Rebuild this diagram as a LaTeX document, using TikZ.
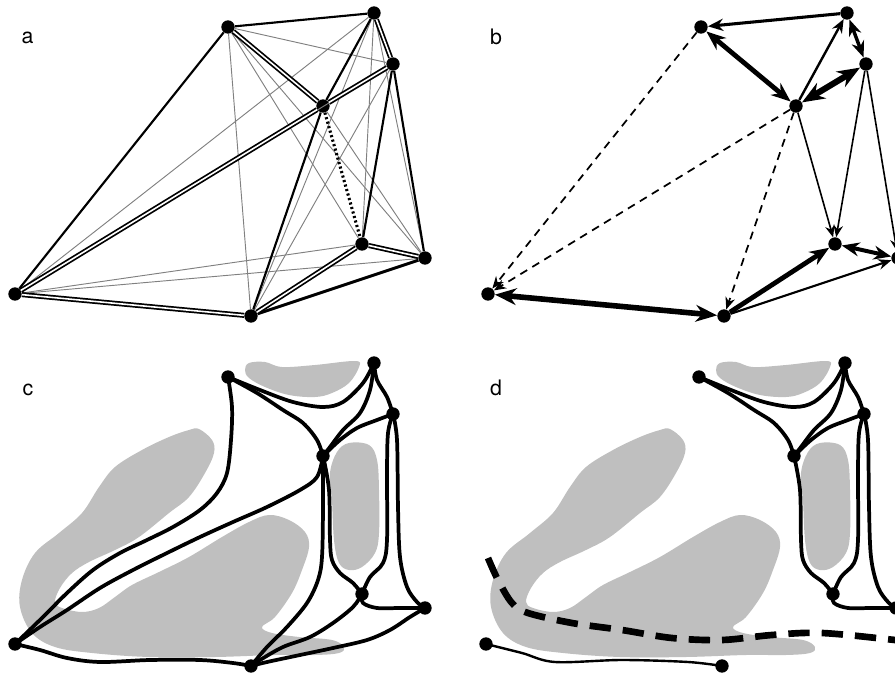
\documentclass[tikz,border=0pt]{standalone}
\usepackage{fontspec}
\setmainfont{TeX Gyre Heros}
\usetikzlibrary{arrows.meta}

% node positions of one panel (pixels, y down)
\newcommand{\ptlist}{1/228/27, 2/374/13, 3/393/64, 4/323/106, 5/362/244, 6/425/258, 7/15/294, 8/251/316}

% grey obstacles of panels c and d
\newcommand{\obstacles}{%
  \fill[blob] plot[smooth cycle,tension=0.6] coordinates {(189,80) (199,79) (212,90) (214,103) (205,123) (189,147) (169,163) (139,187) (115,200) (89,212) (72,223) (60,238) (55,252) (62,258) (82,262) (99,258) (115,247) (132,235) (159,222) (189,207) (222,187) (249,172) (269,165) (289,170) (305,182) (309,197) (302,220) (292,243) (275,267) (262,277) (272,283) (299,287) (332,290) (344,297) (339,303) (315,305) (275,305) (215,307) (149,307) (92,303) (55,297) (32,283) (20,257) (22,230) (35,203) (59,183) (82,163) (99,137) (115,117) (142,100) (169,87)};
  \fill[blob] plot[smooth cycle,tension=0.6] coordinates {(349,93) (369,95) (377,110) (379,140) (379,183) (375,203) (362,217) (349,220) (339,213) (334,190) (332,150) (330,123) (337,102)};
  \fill[blob] plot[smooth cycle,tension=0.6] coordinates {(249,13) (265,12) (282,17) (315,15) (355,11) (359,17) (349,33) (332,43) (315,47) (289,45) (265,37) (249,28) (245,20)};
}

% paths kept in both c and d
\newcommand{\keptpaths}[1]{%
  \draw[route] plot[smooth,tension=0.55] coordinates {(#11) (260,40) (293,52) (323,57) (343,52) (363,33) (#12)};
  \draw[route] plot[smooth,tension=0.55] coordinates {(#11) (257,43) (283,60) (303,73) (317,90) (#14)};
  \draw[route] plot[smooth,tension=0.55] coordinates {(#12) (377,30) (387,47) (#13)};
  \draw[route] plot[smooth,tension=0.55] coordinates {(#12) (370,40) (360,63) (343,80) (330,97) (#14)};
  \draw[route] plot[smooth,tension=0.55] coordinates {(#13) (377,70) (357,78) (340,90) (#14)};
  \draw[route] plot[smooth,tension=0.55] coordinates {(#14) (329,140) (330,190) (332,210) (340,223) (353,233) (#15)};
  \draw[route] plot[smooth,tension=0.55] coordinates {(#13) (388,83) (387,123) (387,190) (383,213) (370,227) (#15)};
  \draw[route] plot[smooth,tension=0.55] coordinates {(#13) (397,90) (398,157) (400,207) (407,237) (417,252) (#16)};
  \draw[route] plot[smooth,tension=0.55] coordinates {(#15) (363,253) (377,258) (400,258) (#16)};
}

\begin{document}
\begin{tikzpicture}[x=0.75pt,y=-0.75pt,
  dot/.style={circle,fill=black,inner sep=0pt,minimum size=10pt},
  lbl/.style={anchor=base,font=\fontsize{16}{18}\selectfont},
  grayedge/.style={line width=0.7pt,black!50},
  oneedge/.style={line width=1.6pt},
  dbledge/.style={line width=1.3pt,double=white,double distance=1.2pt},
  dotedge/.style={line width=2.3pt,dash pattern=on 1.6pt off 1.9pt},
  wt/.style={line width=#1},
  dsh/.style={dash pattern=on 6pt off 4.5pt},
  route/.style={line width=2.8pt,line cap=round,line join=round},
  blob/.style={fill=black!25},
  cutline/.style={line width=5pt,dash pattern=on 16pt off 9pt},
  >={Stealth[length=6pt 2.4,width=5pt 1.8]}]

  \useasboundingbox (0,0) rectangle (895,673);
  \clip (0,0) rectangle (895,673);

  % Panel a
  \node[lbl] (la) at (27.5,44) {a};
  \foreach \n/\x/\y in \ptlist \node[dot] (a\n) at (\x,\y) {};
  \foreach \s/\t in {1/3,1/5,1/6,1/8,2/5,2/6,2/7,2/8,3/7,3/8,4/6,5/7,6/7}
    \draw[grayedge] (a\s) -- (a\t);
  \foreach \s/\t in {1/2,1/7,2/4,4/8,3/5,3/6}
    \draw[oneedge] (a\s) -- (a\t);
  \draw[oneedge,line width=2.2pt] (a6) -- (a8);
  \foreach \s/\t in {1/4,3/4,2/3,4/7,7/8,5/8,5/6}
    \draw[dbledge] (a\s) -- (a\t);
  \draw[dotedge] (a4) -- (a5);

  % Panel b
  \node[lbl] (lb) at (496,45) {b};
  \begin{scope}[shift={(473,0)}]
    \foreach \n/\x/\y in \ptlist \node[dot] (b\n) at (\x,\y) {};
    \draw[wt=1.3pt,dsh,->] (b1) -- (b7);
    \draw[wt=1.3pt,dsh,->] (b4) -- (b7);
    \draw[wt=1.3pt,dsh,->] (b4) -- (b8);
    \draw[wt=2.3pt,->] (b2) -- (b1);
    \draw[wt=3.6pt,<->] (b1) -- (b4);
    \draw[wt=1.8pt,->] (b4) -- (b2);
    \draw[wt=2.6pt,<->] (b2) -- (b3);
    \draw[wt=4.6pt,<->] (b4) -- (b3);
    \draw[wt=1.2pt,->] (b4) -- (b5);
    \draw[wt=1.2pt,->] (b3) -- (b5);
    \draw[wt=1.2pt,->] (b3) -- (b6);
    \draw[wt=3pt,<->] (b5) -- (b6);
    \draw[wt=3.6pt,->] (b8) -- (b5);
    \draw[wt=1.6pt,->] (b8) -- (b6);
    \draw[wt=4.2pt,<->] (b7) -- (b8);
  \end{scope}

  % Panel c
  \node[lbl] (lc) at (28,395) {c};
  \begin{scope}[shift={(0,350)}]
    \obstacles
    \foreach \n/\x/\y in \ptlist \node[dot] (c\n) at (\x,\y) {};
    \keptpaths{c}
    \draw[route] plot[smooth,tension=0.55] coordinates {(c1) (232,57) (231,90) (227,123) (217,143) (200,160) (173,177) (147,190) (120,203) (93,220) (67,243) (43,267) (c7)};
    \draw[route] plot[smooth,tension=0.55] coordinates {(c4) (317,127) (300,140) (267,157) (233,172) (200,187) (167,203) (133,220) (100,238) (67,260) (40,277) (c7)};
    \draw[route] plot[smooth,tension=0.55] coordinates {(c7) (40,300) (67,308) (100,312) (150,310) (200,310) (233,313) (c8)};
    \draw[route] plot[smooth,tension=0.55] coordinates {(c4) (323,157) (322,207) (318,230) (307,253) (287,277) (267,297) (c8)};
    \draw[route] plot[smooth,tension=0.55] coordinates {(c5) (353,257) (333,273) (310,287) (283,297) (260,310) (c8)};
    \draw[route] plot[smooth,tension=0.55] coordinates {(c6) (410,267) (390,280) (367,290) (333,298) (300,305) (267,312) (c8)};
  \end{scope}

  % Panel d
  \node[lbl] (ld) at (496,395) {d};
  \begin{scope}[shift={(471,350)}]
    \obstacles
    \foreach \n/\x/\y in \ptlist \node[dot] (d\n) at (\x,\y) {};
    \keptpaths{d}
    \draw[route,line width=1.8pt] plot[smooth,tension=0.55] coordinates {(d7) (51,303) (84,312) (151,310) (217,312) (d8)};
    % cut
    \draw[cutline] plot[smooth,tension=0.55] coordinates {(17,208) (27,230) (41,253) (57,263) (101,273) (151,280) (201,288) (251,290) (301,285) (351,283) (424,290) (440,292)};
  \end{scope}
\end{tikzpicture}
\end{document}
